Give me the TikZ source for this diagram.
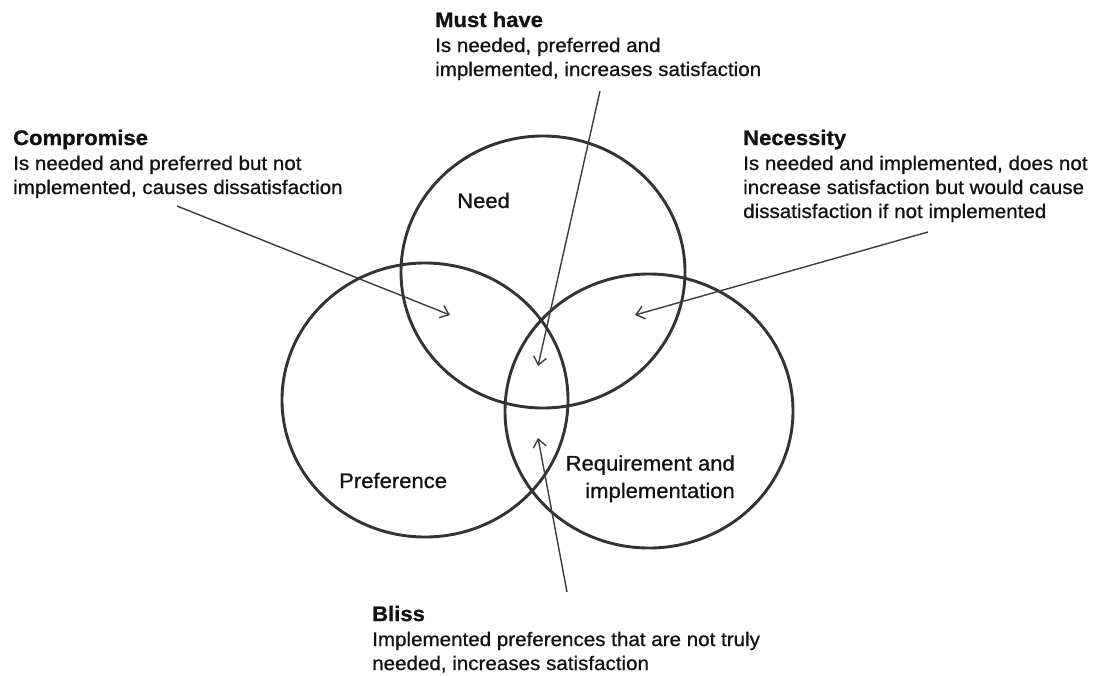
\documentclass[tikz,border=0pt]{standalone}
\usepackage{fontspec}
\setmainfont{Liberation Sans}[FakeStretch=1.05,FakeBold=0.8]
\usetikzlibrary{arrows.meta,shapes.geometric}
\definecolor{circ}{HTML}{333333}
\definecolor{arr}{HTML}{3C3C3C}
\definecolor{txt}{HTML}{111111}
\tikzset{
  venn/.style={ellipse, draw=circ, line width=2.9pt, inner sep=0pt},
  desc/.style={align=left, anchor=base west, inner sep=0pt, text=txt,
    font=\fontsize{19.6}{24}\selectfont},
  lab/.style={inner sep=0pt, text=txt, font=\fontsize{21}{27.5}\selectfont},
  pointer/.style={draw=arr, line width=1.4pt, -{Straight Barb[length=8pt,width=13pt]}}
}
\newcommand{\hdtext}[1]{{\fontsize{21}{24}\selectfont\bfseries #1}}
\begin{document}
\begin{tikzpicture}[x=1pt,y=-1pt]
\useasboundingbox (0,0) rectangle (1097,675);
% circles
\node[venn, minimum width=284pt, minimum height=272pt] (need) at (543,272) {};
\node[venn, minimum width=286pt, minimum height=274pt] (pref) at (425,400) {};
\node[venn, minimum width=288pt, minimum height=274pt] (req) at (649,411) {};
% circle labels
\node[lab, anchor=base west] (needlab) at (457,208) {Need};
\node[lab, anchor=base west] (preflab) at (339,488) {Preference};
\node[lab, align=right, anchor=base east] (reqlab) at (735,498) {Requirement and\\implementation};
% descriptions (anchored at the baseline of their last line)
\node[desc] (musthave) at (435,76) {\hdtext{Must have}\\[1pt]Is needed, preferred and\\implemented, increases satisfaction};
\node[desc] (compromise) at (13,194) {\hdtext{Compromise}\\[1pt]Is needed and preferred but not\\implemented, causes dissatisfaction};
\node[desc] (necessity) at (743,218) {\hdtext{Necessity}\\[1pt]Is needed and implemented, does not\\increase satisfaction but would cause\\dissatisfaction if not implemented};
\node[desc] (bliss) at (372,670) {\hdtext{Bliss}\\[1pt]Implemented preferences that are not truly\\needed, increases satisfaction};
% arrow end points
\coordinate (compT) at (177,206);
\coordinate (compH) at (450,315);
\coordinate (mustT) at (600,91);
\coordinate (mustH) at (538,366);
\coordinate (necT) at (928,232);
\coordinate (necH) at (635,315);
\coordinate (blissT) at (567,592);
\coordinate (blissH) at (538,438);
% arrows
\draw[pointer] (compT) -- (compH);
\draw[pointer] (mustT) -- (mustH);
\draw[pointer] (necT) -- (necH);
\draw[pointer] (blissT) -- (blissH);
\end{tikzpicture}
\end{document}
